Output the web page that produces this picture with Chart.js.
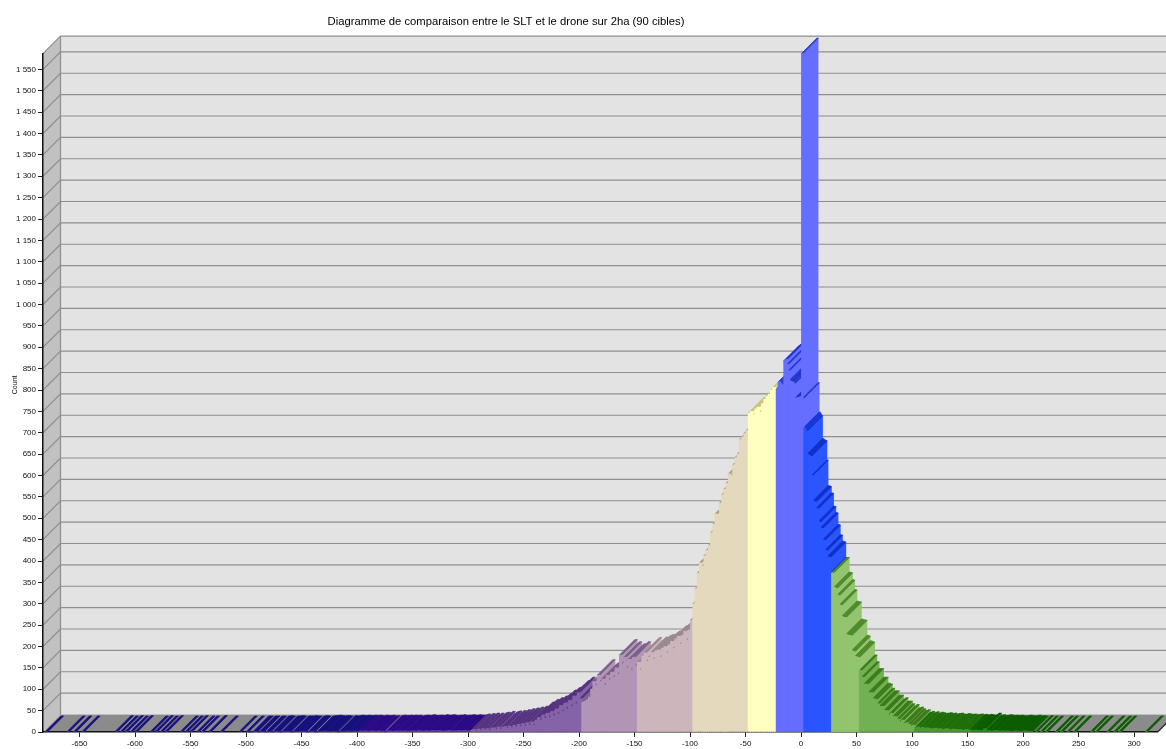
<!DOCTYPE html>
<html><head><meta charset="utf-8">
<style>html,body{margin:0;padding:0;background:#fff}canvas{display:block}</style>
<script src="https://cdn.jsdelivr.net/npm/chart.js@4"></script></head>
<body><canvas id="c" width="1166" height="749"></canvas>
<script>
const chartTitle = 'Diagramme de comparaison entre le SLT et le drone sur 2ha (90 cibles)';
const yTitle = 'Count';

// isolated bars of the far tails (bin centre, count)
const leftTailBins = [-679.5,-660,-654,-646.6,-616.5,-612,-607.5,-603,-598.5,-585,-580.5,-576,-571.5,-558,-553.5,-549,-543,-539,-532,-522,-505];
const leftTailCounts = [1,1,1,1,2,1,2,1,2,1,2,1,2,1,1,2,1,1,2,1,1];
const rightTailBins = [207.8,212.3,216.8,221.4,230.4,234.9,240.8,246.8,261.9,266.4,276.8,282.9,287.4,311.4];
const rightTailCounts = [1,2,1,1,1,1,1,1,1,1,1,1,1,1];

// two-unit bins
const tailStart = -498.5;
const tailCounts = [1,0,0,1,1,0,1,1,0,1, 1,0,1,2,1,0,1,1,2,1, 0,1,1,1,2,1,1,0,1,2, 1,0,1,2,2,3,2,1,2,2, 1,0,2,1,2,3,2,2,3,2];
const indigoStart = -398.5;
const indigoCounts = [2,3,2,3,2,1,3,2,2,3, 1,2,0,2,3,2,2,3,2,3, 2,3,1,2,3,3,2,4,3,2, 3,3,2,4,3,3,4,3,2,3, 3,4,2,3,3,4,3,3,4,3, 3];
const purpleStart = -296.5;
const purpleCounts = [4,6,3,7,4,8,5,8,4,9, 10,6,12,7,11,13,8,14,10,16, 12,18,13,20,14,22,16,24,15,28, 34,28,40,32,44,34,48,38,54,42, 62,48,68,54,74,60,84,66,92,78];
const lilacStart = -196.5;
const lilacCounts = [70,72,76,82,100,118,108,133,118,124,110,133,122,140,128,150,135,180,160,175,150,170,145,175,155];
const pinkStart = -146.5;
const pinkCounts = [163,145,178,185,165,175,186,170,190,192,175,196,200,185,204,212,195,218,224,205,226,236,215,238,262];
const tanStart = -96.5;
const tanCounts = [300,335,372,396,388,412,425,436,466,486,510,510,535,555,568,582,604,600,625,642,650,684,690,698,705];
const yellowStart = -46.5;
const yellowCounts = [746,750,742,756,760,748,768,778,785,790,800,806];

// one-unit bins around the peak
const centerBins = [-23,-22,-21,-20,-19,-18,-17,-16,-15,-14,-13,-12,-11,-10,-9,-8,-7,-6,-5,-4,-3,-2,-1,0,1,2,3,4,5,6,7,8,9,10,11,12,13,14,15,16,17,18,19,20,21,22,23,24,25,26,27,28,29,30,31,32,33,34,35,36,37,38,39,40,41,42,43,44,45,46,47,48,49,50,51,52];
const centerCounts = [800,800,805,819,819,815,812,812,868,870,872,860,845,822,820,820,818,815,781,781,782,783,784,785,1587,781,712,708,704,650,648,646,645,600,540,539,538,523,522,492,491,477,476,449,448,425,424,410,409,408,372,372,372,338,337,336,320,319,297,296,270,269,268,268,228,227,226,226,225,190,189,188,177,176,175,174,173];

// two-unit bins on the falling side
const fallStart = 53.5;
const fallCounts = [144,128,112,112,92,92,78,76,66,60,60,50,50,40,44,36,36,30,24,28,20,22,18,14,16, 10,12,9,11,8,10,9,7,8,9, 7,8,6,7,8,6,5,7,6,5, 6,4,5,6,4,5,3,5,4,3, 4,8,3,4,2,3,4,3,2,3, 2,3,2,1,2,3,2,1,2,3, 1,2];

// colour classes: upper bound, front/side colour, top colour
const classUpper = [-397.5,-297.5,-197.5,-147.5,-97.5,-47.5,-22.5,2.5,27.5,52.5,102.5,152.5,1000];
const classFront = ['#3a2f99','#5c3fa8','#8563a8','#b294b6','#ccb6bc','#e4d9bc','#ffffbf','#666eff','#2a55ff','#93c46f','#72b054','#4c9a36','#2f8a20'];
const classTop = ['#16107e','#2b0a86','#553380','#7a6088','#998a92','#a89f7c','#c8c67e','#2233cc','#1030c8','#4e8a2a','#3d7a1a','#1f6e0a','#0c5c00'];

const DEPTH_WALL = 17.5, DEPTH_BAR = 15.5;
const classOf = u => classUpper.findIndex(b => u < b);
const seq = (start, counts) => counts.map((y, i) => ({x: start + 2 * i, y}));
const pairs = (bins, counts) => bins.map((x, i) => ({x, y: counts[i]}));

const wideBars = [].concat(
  pairs(leftTailBins, leftTailCounts),
  seq(tailStart, tailCounts), seq(indigoStart, indigoCounts), seq(purpleStart, purpleCounts),
  seq(lilacStart, lilacCounts), seq(pinkStart, pinkCounts), seq(tanStart, tanCounts), seq(yellowStart, yellowCounts),
  seq(fallStart, fallCounts), pairs(rightTailBins, rightTailCounts)
);
const narrowBars = pairs(centerBins, centerCounts);

function poly(ctx, pts, fill, outline) {
  ctx.fillStyle = fill; ctx.beginPath();
  pts.forEach((p, i) => i ? ctx.lineTo(p[0], p[1]) : ctx.moveTo(p[0], p[1]));
  ctx.closePath(); ctx.fill();
  if (outline) { ctx.strokeStyle = fill; ctx.lineWidth = outline; ctx.stroke(); }
}

const scene3d = {
  id: 'scene3d',
  afterLayout(chart) {
    chart.titleBlock.left = 0; chart.titleBlock.right = 1012;
    const y = chart.scales.y;
    if (!y._shifted) {
      const draw = y.drawTitle;
      y.drawTitle = function () { const c = this.ctx; c.save(); c.translate(0, -8); draw.call(this); c.restore(); };
      y._shifted = true;
    }
  },
  beforeDraw(chart) {
    const {ctx, scales: {x, y}} = chart, D = DEPTH_WALL;
    const l = x.left, r = x.right, t = y.top, b = y.bottom;
    ctx.save();
    poly(ctx, [[l + D, t - D], [r + D, t - D], [r + D, b - D], [l + D, b - D]], '#e3e3e3');
    poly(ctx, [[l, t], [l + D, t - D], [l + D, b - D], [l, b]], '#c1c1c1');
    poly(ctx, [[l, b], [l + D, b - D], [r + D, b - D], [r, b]], '#8b8b8b');
    ctx.strokeStyle = '#8e8e8e'; ctx.lineWidth = 1.2;
    const lines = y.ticks.map(k => y.getPixelForValue(k.value)).filter(p => p < b - 1);
    lines.concat([t]).forEach(p => {
      ctx.beginPath(); ctx.moveTo(l, p); ctx.lineTo(l + D, p - D); ctx.lineTo(r + D, p - D); ctx.stroke();
    });
    ctx.beginPath(); ctx.moveTo(l + D, t - D); ctx.lineTo(l + D, b - D); ctx.stroke();
    ctx.beginPath(); ctx.moveTo(r, b); ctx.lineTo(r + D, b - D); ctx.strokeStyle = '#222'; ctx.stroke();
    ctx.restore();
  },
  beforeDatasetsDraw(chart) {
    const {ctx} = chart, d = DEPTH_BAR, all = [];
    chart.data.datasets.forEach((ds, i) => chart.getDatasetMeta(i).data.forEach((el, j) => {
      if (ds.data[j].y > 0) all.push({el, u: ds.data[j].x});
    }));
    all.sort((a, b) => a.u - b.u);
    ctx.save();
    all.forEach(({el, u}) => {
      const c = classOf(u), xl = el.x - el.width / 2, xr = el.x + el.width / 2, yt = el.y, yb = el.base;
      poly(ctx, [[xr, yt], [xr + d, yt - d], [xr + d, yb - d], [xr, yb]], classFront[c]);
      poly(ctx, [[xl, yt], [xr, yt], [xr + d, yt - d], [xl + d, yt - d]], classTop[c], 0.7);
    });
    ctx.restore();
  }
};

const frontColor = ctx => classFront[classOf(ctx.raw ? ctx.raw.x : 0)];
const tickFont = {family: '"Liberation Sans", Arial, sans-serif', size: 8};

new Chart(document.getElementById('c'), {
  type: 'bar',
  data: {datasets: [
    {data: wideBars, barThickness: 2.6, grouped: false, backgroundColor: frontColor, clip: false},
    {data: narrowBars, barThickness: 1.5, grouped: false, backgroundColor: frontColor, clip: false}
  ]},
  plugins: [scene3d],
  options: {
    responsive: false, animation: false,
    layout: {padding: {left: 0, right: 8.4, top: 0, bottom: 0}},
    plugins: {
      legend: {display: false}, tooltip: {enabled: false},
      title: {display: true, text: chartTitle, color: '#000',
        font: {family: '"Liberation Sans", Arial, sans-serif', size: 11.25, weight: 'normal'},
        padding: {top: 15, bottom: 25.2}}
    },
    scales: {
      x: {type: 'linear', min: -682.9, max: 321.2, offset: false,
        afterFit: s => { s.height = 17; },
        grid: {offset: false, drawOnChartArea: false, drawTicks: true, tickLength: 5, color: '#222'},
        border: {color: '#111', width: 1.5},
        ticks: {stepSize: 50, includeBounds: false, autoSkip: false, maxRotation: 0, padding: 2, color: '#111', font: tickFont,
          callback: v => String(v)}},
      y: {min: 0, max: 1586.7,
        afterFit: s => { s.width = 43; },
        title: {display: true, text: yTitle, color: '#111', font: {family: '"Liberation Sans", Arial, sans-serif', size: 7}, padding: {top: 10.8, bottom: 0}},
        grid: {drawOnChartArea: false, drawTicks: true, tickLength: 5, color: '#222'},
        border: {color: '#111', width: 1.5},
        ticks: {stepSize: 50, includeBounds: false, autoSkip: false, padding: 2, color: '#111', font: tickFont,
          callback: v => v >= 1000 ? Math.floor(v / 1000) + ' ' + String(v % 1000).padStart(3, '0') : String(v)}}
    }
  }
});
</script></body></html>
